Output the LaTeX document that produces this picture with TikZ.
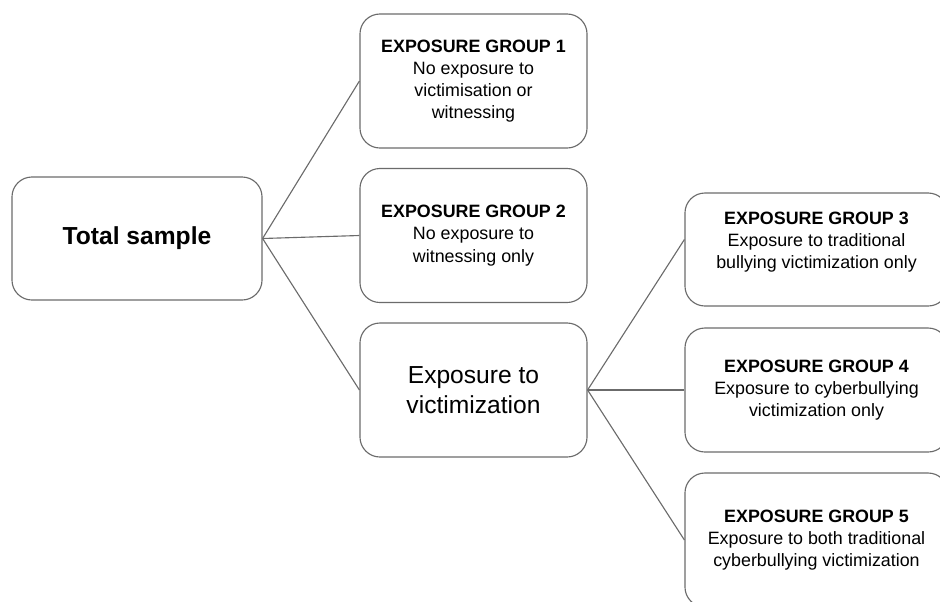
\documentclass[tikz,border=0pt]{standalone}
\usepackage{fontspec}
\setmainfont{Liberation Sans}
\definecolor{boxgray}{HTML}{6B6B6B}
\begin{document}
\begin{tikzpicture}[x=0.025cm, y=-0.025cm,
  box/.style={draw=boxgray, line width=0.8pt, rounded corners=0.5cm, align=center, inner sep=2pt},
  small/.style={font=\fontsize{12.7}{15.8}\selectfont},
  big/.style={font=\fontsize{17.5}{21.3}\selectfont},
  mid/.style={minimum width=5.675cm, minimum height=3.35cm},
  wide/.style={minimum width=6.575cm}]
\useasboundingbox (0,0) rectangle (940,601);

\node (tot) at (137,238.5) [box, big, minimum width=6.25cm, minimum height=3.075cm] {\textbf{Total sample}};

\node (g1) at (473.5,81) [box, small, mid] {\textbf{EXPOSURE GROUP 1}\\No exposure to\\victimisation or\\witnessing};
\node (g2) at (473.5,235.5) [box, small, mid] {\textbf{EXPOSURE GROUP 2}\\No exposure to\\witnessing only};
\node (vic) at (473.5,390) [box, big, mid] {Exposure to\\victimization};

\node (g3) at (816.5,249.5) [box, small, wide, minimum height=2.825cm, text depth=13.5pt] {\textbf{EXPOSURE GROUP 3}\\Exposure to traditional\\bullying victimization only};
\node (g4) at (816.5,390) [box, small, wide, minimum height=3.1cm] {\textbf{EXPOSURE GROUP 4}\\Exposure to cyberbullying\\victimization only};
\node (g5) at (816.5,540) [box, small, wide, minimum height=3.35cm] {\textbf{EXPOSURE GROUP 5}\\Exposure to both traditional\\cyberbullying victimization};

\draw[boxgray, line width=0.8pt] (tot.east) to (g1.west);
\draw[boxgray, line width=0.8pt] (tot.east) to (g2.west);
\draw[boxgray, line width=0.8pt] (tot.east) to (vic.west);
\draw[boxgray, line width=0.8pt] (vic.east) to ([yshift=0.25cm]g3.west);
\draw[boxgray, line width=0.8pt] (vic.east) to (g4.west);
\draw[boxgray, line width=0.8pt] (vic.east) to (g5.west);
\end{tikzpicture}
\end{document}
